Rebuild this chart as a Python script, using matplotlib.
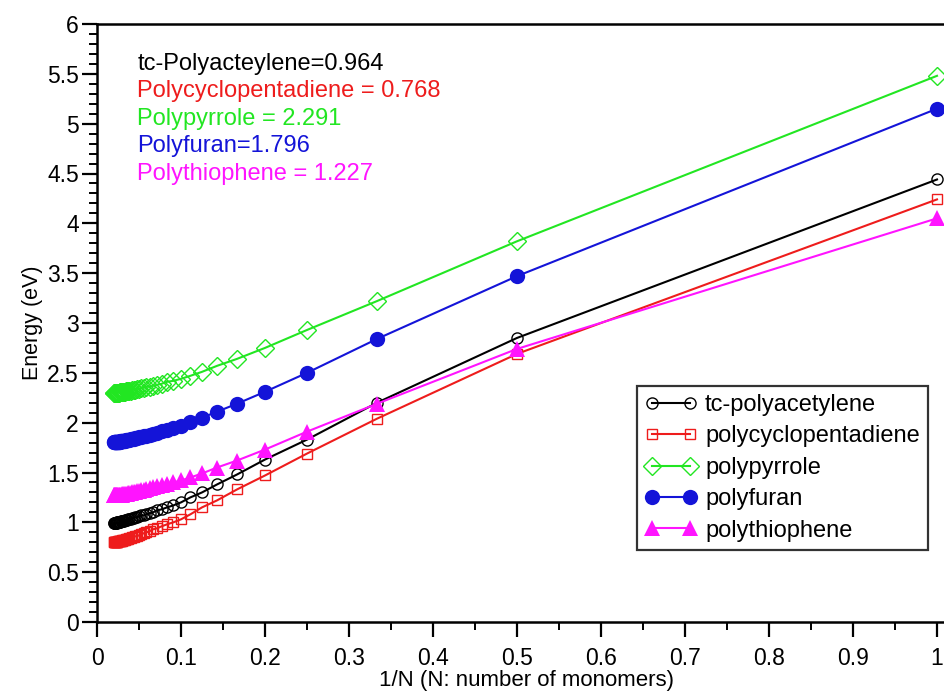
import numpy as np
import matplotlib
matplotlib.use("Agg")
import matplotlib.pyplot as plt
from matplotlib.ticker import MultipleLocator

plt.rcParams['font.family'] = ['Liberation Sans', 'DejaVu Sans']

# chain length N = 1..50, plotted against 1/N
n_monomers = np.arange(1, 51)
inv_n = 1.0 / n_monomers

polyacetylene = [4.44, 2.85, 2.20, 1.83, 1.63, 1.48, 1.38, 1.30, 1.25, 1.20,
                 1.17, 1.15, 1.13, 1.12, 1.10, 1.09, 1.08, 1.07, 1.07, 1.06,
                 1.05, 1.05, 1.04, 1.04, 1.03, 1.03, 1.03, 1.02, 1.02, 1.02,
                 1.01, 1.01, 1.01, 1.01, 1.01, 1.00, 1.00, 1.00, 1.00, 1.00,
                 1.00, 1.00, 0.99, 0.99, 0.99, 0.99, 0.99, 0.99, 0.99, 0.99]
polycyclopentadiene = [4.24, 2.69, 2.04, 1.69, 1.47, 1.33, 1.22, 1.15, 1.08, 1.03,
                       1.00, 0.98, 0.96, 0.94, 0.93, 0.91, 0.90, 0.89, 0.88, 0.87,
                       0.86, 0.86, 0.85, 0.85, 0.84, 0.84, 0.83, 0.83, 0.83, 0.82,
                       0.82, 0.82, 0.82, 0.81, 0.81, 0.81, 0.81, 0.81, 0.81, 0.81,
                       0.80, 0.80, 0.80, 0.80, 0.80, 0.80, 0.80, 0.80, 0.80, 0.80]
polypyrrole = [5.48, 3.82, 3.22, 2.93, 2.75, 2.64, 2.57, 2.51, 2.47, 2.44,
               2.42, 2.41, 2.39, 2.38, 2.37, 2.36, 2.36, 2.35, 2.35, 2.34,
               2.34, 2.33, 2.33, 2.33, 2.32, 2.32, 2.32, 2.32, 2.32, 2.31,
               2.31, 2.31, 2.31, 2.31, 2.31, 2.31, 2.31, 2.30, 2.30, 2.30,
               2.30, 2.30, 2.30, 2.30, 2.30, 2.30, 2.30, 2.30, 2.30, 2.30]
polyfuran = [5.15, 3.47, 2.84, 2.50, 2.31, 2.19, 2.11, 2.05, 2.01, 1.97,
             1.95, 1.93, 1.92, 1.90, 1.89, 1.88, 1.87, 1.87, 1.86, 1.86,
             1.85, 1.85, 1.84, 1.84, 1.84, 1.83, 1.83, 1.83, 1.83, 1.82,
             1.82, 1.82, 1.82, 1.82, 1.82, 1.82, 1.81, 1.81, 1.81, 1.81,
             1.81, 1.81, 1.81, 1.81, 1.81, 1.81, 1.81, 1.81, 1.81, 1.81]
polythiophene = [4.05, 2.74, 2.19, 1.91, 1.73, 1.62, 1.55, 1.49, 1.45, 1.42,
                 1.40, 1.38, 1.37, 1.36, 1.35, 1.34, 1.33, 1.32, 1.32, 1.31,
                 1.31, 1.30, 1.30, 1.30, 1.29, 1.29, 1.29, 1.28, 1.28, 1.28,
                 1.28, 1.28, 1.28, 1.27, 1.27, 1.27, 1.27, 1.27, 1.27, 1.27,
                 1.27, 1.27, 1.27, 1.27, 1.27, 1.27, 1.27, 1.27, 1.27, 1.27]

series_names = ['tc-polyacetylene', 'polycyclopentadiene', 'polypyrrole',
                'polyfuran', 'polythiophene']
limit_labels = ['tc-Polyacteylene=0.964', 'Polycyclopentadiene = 0.768',
                'Polypyrrole = 2.291', 'Polyfuran=1.796', 'Polythiophene = 1.227']
x_ticklabels = ['0', '0.1', '0.2', '0.3', '0.4', '0.5', '0.6', '0.7', '0.8', '0.9', '1']
y_ticklabels = ['0', '0.5', '1', '1.5', '2', '2.5', '3', '3.5', '4', '4.5', '5', '5.5', '6']

BLACK, RED, GREEN, BLUE, MAGENTA = '#000000', '#ee1c1c', '#22e622', '#1414d8', '#ff14ff'

XMAX = 1.022
fig = plt.figure(figsize=(9.45, 6.91), dpi=100)
# x range runs a little past 1 so the right frame edge falls off the canvas
ax = fig.add_axes([97/945, 69/691, XMAX * 840/945, 598/691])

styles = [
    (polyacetylene, BLACK, dict(marker='o', ms=8, mfc='none', mew=1.0)),
    (polycyclopentadiene, RED, dict(marker='s', ms=7, mfc='none', mew=1.0)),
    (polypyrrole, GREEN, dict(marker='D', ms=9, mfc='none', mew=1.0)),
    (polyfuran, BLUE, dict(marker='o', ms=11, mfc=BLUE, mew=0)),
    (polythiophene, MAGENTA, dict(marker='^', ms=12, mfc=MAGENTA, mew=0)),
]
for (vals, col, mk), name in zip(styles, series_names):
    ax.plot(inv_n, vals, color=col, mec=col, lw=1.5, label=name, **mk)

ax.set_xlim(0, XMAX)
ax.set_ylim(0, 6)
ax.set_xticks(np.arange(0, 1.01, 0.1))
ax.set_xticklabels(x_ticklabels)
ax.set_yticks(np.arange(0, 6.01, 0.5))
ax.set_yticklabels(y_ticklabels)
ax.xaxis.set_minor_locator(MultipleLocator(0.05))
ax.yaxis.set_minor_locator(MultipleLocator(0.1))

for sp in ax.spines.values():
    sp.set_linewidth(1.8)
ax.tick_params(which='major', direction='out', length=11, width=1.6, labelsize=16.5)
ax.tick_params(which='minor', direction='out', length=6, width=1.4)
ax.tick_params(axis='x', which='major', pad=7)
ax.tick_params(axis='y', which='major', pad=2)

ax.set_xlabel('1/N (N: number of monomers)', fontsize=16, labelpad=0)
ax.set_ylabel('Energy (eV)', fontsize=15.5, labelpad=3)

for i, (txt, col) in enumerate(zip(limit_labels, [BLACK, RED, GREEN, BLUE, MAGENTA])):
    ax.text(0.048, 5.60 - i * 0.276, txt, color=col, fontsize=17, va='center', ha='left')

leg = ax.legend(loc='lower right', bbox_to_anchor=((928 - 97) / (XMAX * 840), (622 - 550) / 598),
                borderaxespad=0, fontsize=17, frameon=True, fancybox=False,
                edgecolor='black', handlelength=2.2, borderpad=0.35, labelspacing=0.4,
                handletextpad=0.35, numpoints=2, markerscale=1.0)
leg.get_frame().set_linewidth(1.6)

fig.savefig('out.png', dpi=100)
